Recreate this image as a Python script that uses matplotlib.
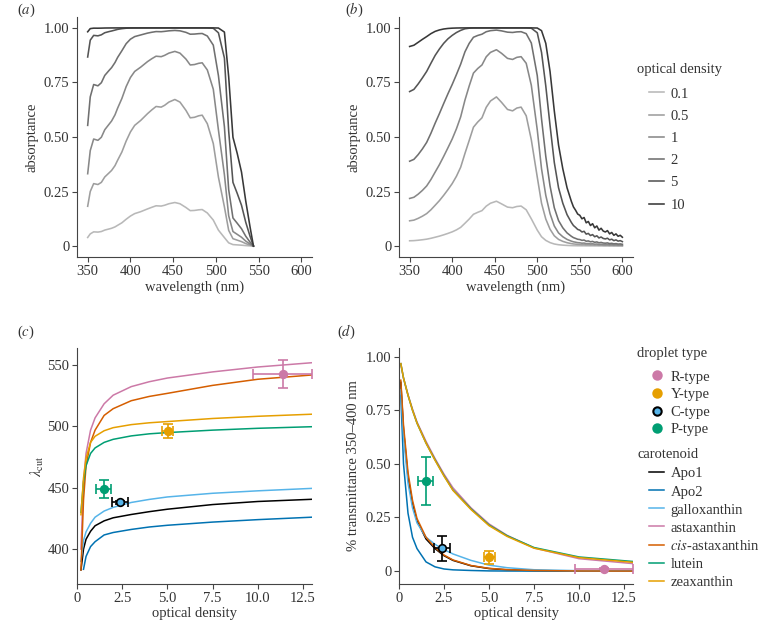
import numpy as np
import matplotlib.pyplot as plt
from matplotlib.lines import Line2D

plt.rcParams['font.family'] = ['Liberation Serif', 'DejaVu Serif']
plt.rcParams['mathtext.fontset'] = 'stix'
plt.rcParams['font.size'] = 10.5

ink = '#333333'

# optical densities shown in (a) and (b)
densities = [0.1, 0.5, 1, 2, 5, 10]
density_labels = ['0.1', '0.5', '1', '2', '5', '10']
density_greys = ['#b8b8b8', '#9e9e9e', '#888888', '#707070', '#555555', '#383838']

# (a) normalised absorbance spectrum
wl_a = [350, 353, 357, 362, 366, 370, 375, 378, 382, 385, 390, 395, 400, 405,
        412, 420, 425, 430, 436, 440, 445, 452, 458, 465, 470, 475, 480, 484,
        490, 497, 503, 510, 515, 520, 525, 530, 535, 540, 544]
spec_a = [0.175, 0.25, 0.293, 0.288, 0.30, 0.331, 0.355, 0.37, 0.40, 0.434,
          0.49, 0.57, 0.643, 0.70, 0.745, 0.811, 0.85, 0.887, 0.88, 0.90,
          0.937, 0.968, 0.937, 0.845, 0.77, 0.775, 0.79, 0.796, 0.715, 0.551,
          0.33, 0.172, 0.065, 0.03, 0.024, 0.018, 0.010, 0.004, 0.0]

# (b) normalised absorbance spectrum
wl_b = [350, 355, 360, 365, 370, 375, 380, 385, 390, 395, 400, 405, 410, 415,
        420, 425, 430, 435, 440, 445, 452, 458, 465, 471, 476, 481, 487, 493,
        500, 505, 510, 515, 520, 525, 530, 535, 540, 542.5, 545, 547.5, 550,
        552.5, 555, 557.5, 560, 562.5, 565, 567.5, 570, 572.5, 575, 577.5,
        580, 582.5, 585, 587.5, 590, 592.5, 595, 597.5, 600]
spec_b = [0.107, 0.110, 0.118, 0.128, 0.140, 0.158, 0.18, 0.203, 0.23, 0.26,
          0.293, 0.335, 0.39, 0.48, 0.575, 0.684, 0.73, 0.77, 0.878, 0.95,
          1.0, 0.934, 0.855, 0.84, 0.87, 0.88, 0.79, 0.58, 0.33, 0.19, 0.115,
          0.07, 0.042, 0.027, 0.019, 0.0135, 0.0100, 0.0086, 0.0078, 0.0069,
          0.0066, 0.0058, 0.0061, 0.0049, 0.0052, 0.0043, 0.0047, 0.0038,
          0.0042, 0.0033, 0.0037, 0.0031, 0.0029, 0.0032, 0.0025, 0.0028,
          0.0022, 0.0025, 0.0020, 0.0022, 0.0018]

# (c) cut-off wavelength against optical density
od_cut = [0.22, 0.36, 0.5, 0.75, 1.0, 1.5, 2.0, 3.0, 4.0, 5.0, 7.5, 10.0, 13.0]
cut_apo1 = [383, 400, 408, 414.5, 419, 423, 425.5, 428.2, 430.5, 432.5, 436.3, 438.8, 440.6]
cut_apo2 = [np.nan, 383.5, 394, 402, 406, 411.5, 413.5, 416, 418, 419.4, 422, 424, 426]
cut_gallo = [390, 407, 414, 421, 426, 431, 434, 438, 440.5, 442.5, 445.5, 447.5, 449.5]
cut_asta = [400, 455, 478, 497, 507, 518.5, 525.5, 532.5, 536.5, 539.5, 544.5, 548.5, 552]
cut_cis = [383, 440, 468, 487, 497, 509, 514.5, 521, 524.5, 527, 533.5, 538.5, 542]
cut_lutein = [430, 455, 468, 478, 482.5, 487, 489.5, 492.3, 494, 495, 497, 498.5, 499.8]
cut_zea = [428, 458, 474, 487, 492, 496.5, 499, 501.5, 503, 504, 506.5, 508.3, 510]

# (d) transmittance 350-400 nm against optical density
od_trans = [0.1, 0.25, 0.5, 0.75, 1.0, 1.5, 2.0, 2.5, 3.0, 4.0, 5.0, 6.0, 7.5, 10.0, 13.0]
trans_apo1 = [0.88, 0.66, 0.44, 0.315, 0.235, 0.15, 0.105, 0.072, 0.05, 0.025, 0.012, 0.006, 0.0025, 0.0006, 0.0001]
trans_apo2 = [0.82, 0.50, 0.27, 0.158, 0.105, 0.043, 0.02, 0.01, 0.006, 0.003, 0.001, 0.0005, 0.0002, 0.0, 0.0]
trans_gallo = [0.845, 0.63, 0.41, 0.295, 0.225, 0.158, 0.125, 0.10, 0.08, 0.05, 0.028, 0.016, 0.0065, 0.002, 0.0003]
trans_asta = [0.967, 0.90, 0.822, 0.755, 0.695, 0.605, 0.525, 0.452, 0.388, 0.295, 0.22, 0.167, 0.108, 0.058, 0.035]
trans_cis = [0.89, 0.68, 0.46, 0.33, 0.245, 0.158, 0.11, 0.075, 0.052, 0.026, 0.013, 0.007, 0.003, 0.0007, 0.0001]
trans_lutein = [0.967, 0.90, 0.82, 0.75, 0.69, 0.597, 0.519, 0.445, 0.378, 0.29, 0.215, 0.165, 0.11, 0.066, 0.045]
trans_zea = [0.967, 0.90, 0.82, 0.75, 0.69, 0.597, 0.517, 0.443, 0.376, 0.287, 0.212, 0.162, 0.107, 0.063, 0.041]

carotenoids = ['Apo1', 'Apo2', 'galloxanthin', 'astaxanthin', r'$\it{cis}$-astaxanthin', 'lutein', 'zeaxanthin']
carotenoid_colors = ['black', '#0072B2', '#56B4E9', '#CC79A7', '#D55E00', '#009E73', '#E69F00']
cut_curves = [cut_apo1, cut_apo2, cut_gallo, cut_asta, cut_cis, cut_lutein, cut_zea]
trans_curves = [trans_apo1, trans_apo2, trans_gallo, trans_asta, trans_cis, trans_lutein, trans_zea]

# oil droplet measurements
droplet_types = ['R-type', 'Y-type', 'C-type', 'P-type']
droplet_face = ['#CC79A7', '#E69F00', '#56B4E9', '#009E73']
droplet_edge = ['#CC79A7', '#E69F00', 'black', '#009E73']
droplet_od = [11.37, 5.02, 2.39, 1.48]
droplet_od_err = [1.62, 0.3, 0.43, 0.42]
droplet_cut = [543, 496.4, 438, 448.9]
droplet_cut_err = [11.5, 5.6, 1.2, 7.5]
droplet_trans = [0.012, 0.064, 0.106, 0.42]
droplet_trans_err = [0.004, 0.031, 0.058, 0.11]

W, H = 778, 627
fig = plt.figure(figsize=(W / 100, H / 100), dpi=100)


def box(x0, y0, x1, y1):
    # pixel box -> figure fraction
    return [x0 / W, 1 - y1 / H, (x1 - x0) / W, (y1 - y0) / H]


ax_a = fig.add_axes(box(77, 17, 312, 257))
ax_b = fig.add_axes(box(399, 17, 633, 257))
ax_c = fig.add_axes(box(77, 348, 312, 584))
ax_d = fig.add_axes(box(399, 348, 633, 584))


def style(ax):
    for side in ('top', 'right'):
        ax.spines[side].set_visible(False)
    for side in ('left', 'bottom'):
        ax.spines[side].set_color('#444444')
        ax.spines[side].set_linewidth(0.8)
    ax.tick_params(direction='out', length=3.5, width=0.8, color='#444444',
                   labelcolor=ink, labelsize=10.5, pad=2)


# (a), (b)
for ax, wl, spec in ((ax_a, wl_a, spec_a), (ax_b, wl_b, spec_b)):
    for od, grey, lab in zip(densities, density_greys, density_labels):
        absorptance = 1 - 10 ** (-od * np.array(spec))
        ax.plot(wl, absorptance, color=grey, lw=1.15, label=lab)
    style(ax)
    ax.set_xlim(337.5, 612.5)
    ax.set_ylim(-0.05, 1.05)
    ax.set_xticks([350, 400, 450, 500, 550, 600])
    ax.set_yticks([0, 0.25, 0.5, 0.75, 1.0])
    ax.set_yticklabels(['0', '0.25', '0.50', '0.75', '1.00'])
    ax.set_xlabel('wavelength (nm)', color=ink, labelpad=2)
    ax.set_ylabel('absorptance', color=ink, labelpad=4)

# (c)
for curve, col in zip(cut_curves, carotenoid_colors):
    ax_c.plot(od_cut, curve, color=col, lw=1.1)
# (d)
for curve, col, lab in zip(trans_curves, carotenoid_colors, carotenoids):
    ax_d.plot(od_trans, curve, color=col, lw=1.1, label=lab)

for ax, yv, ye in ((ax_c, droplet_cut, droplet_cut_err), (ax_d, droplet_trans, droplet_trans_err)):
    for i in range(len(droplet_types)):
        ax.errorbar(droplet_od[i], yv[i], xerr=droplet_od_err[i], yerr=ye[i],
                    fmt='o', ms=5.5, mfc=droplet_face[i], mec=droplet_edge[i],
                    mew=1.2, ecolor=droplet_edge[i], elinewidth=1.2,
                    capsize=3.5, capthick=1.2, zorder=5)
    style(ax)
    ax.set_xlim(0, 13)
    ax.set_xticks([0, 2.5, 5, 7.5, 10, 12.5])
    ax.set_xticklabels(['0', '2.5', '5.0', '7.5', '10.0', '12.5'])
    ax.set_xlabel('optical density', color=ink, labelpad=2)

ax_c.set_ylim(371.5, 564)
ax_c.set_yticks([400, 450, 500, 550])
ax_c.set_ylabel(r'$\lambda_{\mathrm{cut}}$', color=ink, labelpad=1)

ax_d.set_ylim(-0.06, 1.04)
ax_d.set_yticks([0, 0.25, 0.5, 0.75, 1.0])
ax_d.set_yticklabels(['0', '0.25', '0.50', '0.75', '1.00'])
ax_d.set_ylabel('% transmittance 350–400 nm', color=ink, labelpad=4)

# panel letters
for x, y, letter in ((17, 10, 'a'), (345, 10, 'b'), (17, 332, 'c'), (337, 332, 'd')):
    fig.text(x / W, 1 - y / H, '(' + r'$\mathit{' + letter + '}$' + ')',
             ha='left', va='center', color=ink, fontsize=10.5)

# legends
fig.text(637 / W, 1 - 70 / H, 'optical density', ha='left', va='center', color=ink)
h, l = ax_b.get_legend_handles_labels()
fig.legend(h, l, loc='upper left', bbox_to_anchor=(642 / W, 1 - 80 / H),
           frameon=False, handlelength=1.0, handletextpad=0.45,
           labelspacing=0.62, borderpad=0, labelcolor=ink)

fig.text(637 / W, 1 - 354 / H, 'droplet type', ha='left', va='center', color=ink)
drop_handles = [Line2D([], [], ls='', marker='o', ms=6, mfc=f, mec=e, mew=1.5)
                for f, e in zip(droplet_face, droplet_edge)]
fig.legend(drop_handles, droplet_types, loc='upper left',
           bbox_to_anchor=(642 / W, 1 - 363 / H), frameon=False,
           handlelength=1.0, handletextpad=0.45, labelspacing=0.3,
           borderpad=0, labelcolor=ink)

fig.text(637 / W, 1 - 455 / H, 'carotenoid', ha='left', va='center', color=ink)
h, l = ax_d.get_legend_handles_labels()
fig.legend(h, l, loc='upper left', bbox_to_anchor=(642 / W, 1 - 460 / H),
           frameon=False, handlelength=1.0, handletextpad=0.45,
           labelspacing=0.33, borderpad=0, labelcolor=ink)

fig.savefig('out.png', dpi=100)
